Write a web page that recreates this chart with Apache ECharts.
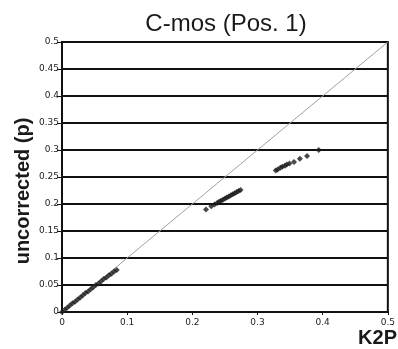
<!DOCTYPE html>
<html>
<head>
<meta charset="utf-8">
<script src="https://cdn.jsdelivr.net/npm/echarts@6/dist/echarts.min.js"></script>
<style>
  html, body { margin: 0; padding: 0; background: #fff; }
  #chart { width: 398px; height: 349px; }
</style>
</head>
<body>
<div id="chart"></div>
<script>
// K2P distance vs uncorrected p-distance, three clusters
const k2pLow = [0, 0.004, 0.008, 0.012, 0.016, 0.02, 0.024, 0.028, 0.032, 0.036, 0.04, 0.044,
  0.048, 0.052, 0.056, 0.06, 0.064, 0.068, 0.072, 0.076, 0.08, 0.084];
const pLow = [0, 0.004, 0.008, 0.012, 0.016, 0.019, 0.023, 0.027, 0.031, 0.035, 0.038, 0.042,
  0.046, 0.05, 0.053, 0.057, 0.061, 0.064, 0.068, 0.071, 0.075, 0.078];
const k2pMid = [0.221, 0.229, 0.234, 0.238, 0.241, 0.244, 0.247, 0.25, 0.253, 0.256, 0.259,
  0.262, 0.265, 0.268, 0.271, 0.274];
const pMid = [0.19, 0.196, 0.199, 0.202, 0.204, 0.206, 0.208, 0.21, 0.212, 0.214, 0.216,
  0.218, 0.22, 0.222, 0.224, 0.226];
const k2pHigh = [0.328, 0.331, 0.335, 0.338, 0.342, 0.345, 0.349, 0.356, 0.365, 0.376, 0.394];
const pHigh = [0.262, 0.264, 0.267, 0.269, 0.271, 0.273, 0.275, 0.278, 0.284, 0.289, 0.3];
const diagonal = [[0, 0], [0.5, 0.5]];

const points = []
  .concat(k2pLow.map((x, i) => [x, pLow[i]]))
  .concat(k2pMid.map((x, i) => [x, pMid[i]]))
  .concat(k2pHigh.map((x, i) => [x, pHigh[i]]));

const chart = echarts.init(document.getElementById('chart'), null, { renderer: 'canvas' });

const tickLabel = {
  fontFamily: 'DejaVu Sans',
  fontSize: 9,
  color: '#222',
};

chart.setOption({
  animation: false,
  title: [
    {
      text: 'C-mos (Pos. 1)',
      left: 221,
      top: 7,
      textAlign: 'center',
      textStyle: {
        fontFamily: 'Liberation Sans, Arial',
        fontSize: 24,
        fontWeight: 'normal',
        color: '#1a1a1a',
      },
    },
    {
      text: 'K2P',
      right: 1,
      top: 328,
      padding: 0,
      textStyle: {
        fontFamily: 'Liberation Sans, Arial',
        fontSize: 20,
        fontWeight: 'bold',
        color: '#1a1a1a',
      },
    },
  ],
  grid: {
    left: 62,
    right: 6,
    top: 42,
    bottom: 37,
    show: true,
    borderColor: '#111',
    borderWidth: 2,
    backgroundColor: 'transparent',
  },
  xAxis: {
    type: 'value',
    min: 0,
    max: 0.5,
    interval: 0.1,
    axisLine: { lineStyle: { color: '#111', width: 2 } },
    axisTick: { show: true, length: 3, lineStyle: { color: '#111', width: 1 } },
    axisLabel: { ...tickLabel, margin: 6 },
    splitLine: { show: false },
  },
  yAxis: {
    type: 'value',
    min: 0,
    max: 0.5,
    interval: 0.05,
    name: 'uncorrected (p)',
    nameLocation: 'middle',
    nameGap: 29,
    nameMoveOverlap: false,
    nameTextStyle: {
      fontFamily: 'Liberation Sans, Arial',
      fontSize: 20,
      fontWeight: 'bold',
      color: '#1a1a1a',
      padding: [0, 28, 0, 0],
    },
    axisLine: { show: true, lineStyle: { color: '#111', width: 2 } },
    axisTick: { show: true, length: 5, lineStyle: { color: '#111', width: 1 } },
    axisLabel: { ...tickLabel, margin: 3 },
    splitLine: { show: true, lineStyle: { color: '#111', width: 2 } },
  },
  series: [
    {
      type: 'line',
      data: diagonal,
      showSymbol: false,
      lineStyle: { color: '#a0a0a0', width: 1 },
      z: 2,
    },
    {
      type: 'scatter',
      data: points,
      symbol: 'diamond',
      symbolSize: 6,
      itemStyle: { color: '#1a1a1a' },
      z: 3,
    },
  ],
});
</script>
</body>
</html>
